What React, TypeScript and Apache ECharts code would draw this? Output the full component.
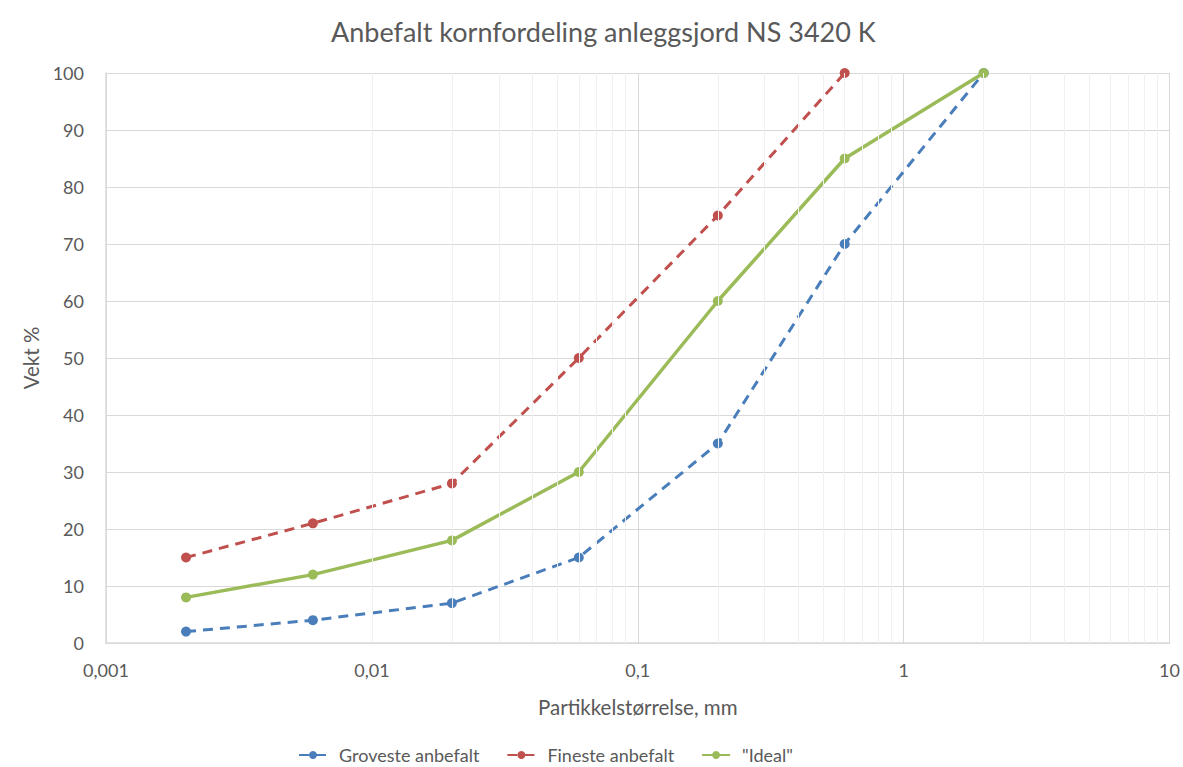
import React, { useEffect, useRef } from "react";
import * as echarts from "echarts";

// Particle size (mm) at each sieve point
const sizesGroveste = [0.002, 0.006, 0.02, 0.06, 0.2, 0.6, 2];
const valuesGroveste = [2, 4, 7, 15, 35, 70, 100];

const sizesFineste = [0.002, 0.006, 0.02, 0.06, 0.2, 0.6];
const valuesFineste = [15, 21, 28, 50, 75, 100];

const sizesIdeal = [0.002, 0.006, 0.02, 0.06, 0.2, 0.6, 2];
const valuesIdeal = [8, 12, 18, 30, 60, 85, 100];

const seriesNames = ["Groveste anbefalt", "Fineste anbefalt", '"Ideal"'];
const seriesColors = ["#4A7EBB", "#C0504D", "#9BBB59"];

const FONT = "Lato, 'Noto Sans', sans-serif";
const TEXT = "#595959";

// Minor log grid lines at 2..9 × each decade
const decades = [0.001, 0.01, 0.1, 1];
const minorGrid: number[] = [];
decades.forEach((d) => {
  for (let k = 2; k <= 9; k++) minorGrid.push(Number((k * d).toPrecision(6)));
});

const pairs = (xs: number[], ys: number[]) => xs.map((x, i) => [x, ys[i]]);

export default function App() {
  const ref = useRef<HTMLDivElement>(null);

  useEffect(() => {
    if (!ref.current) return;
    document.body.style.margin = "0";
    document.body.style.overflow = "hidden";
    const chart = echarts.init(ref.current, undefined, { renderer: "svg" });
    chart.setOption({
      animation: false,
      backgroundColor: "#ffffff",
      title: {
        text: "Anbefalt kornfordeling anleggsjord NS 3420 K",
        left: 326,
        top: 13,
        textStyle: { fontFamily: FONT, fontSize: 27, fontWeight: "normal", color: TEXT },
      },
      grid: { left: 106, right: 13, top: 73, bottom: 124, containLabel: false },
      legend: {
        bottom: 3,
        left: 298,
        padding: 0,
        itemGap: 27,
        itemWidth: 28,
        itemHeight: 10,
        textStyle: { fontFamily: FONT, fontSize: 18, color: TEXT, padding: [0, 0, 0, 7] },
        data: seriesNames,
      },
      xAxis: {
        type: "log",
        logBase: 10,
        min: 0.001,
        max: 10,
        name: "Partikkelstørrelse, mm",
        nameLocation: "middle",
        nameGap: 53,
        nameTextStyle: { fontFamily: FONT, fontSize: 20.5, color: TEXT },
        axisLine: { show: true, lineStyle: { color: "#d9d9d9", width: 1.5 } },
        axisTick: { show: false },
        axisLabel: {
          fontFamily: FONT,
          fontSize: 18,
          color: TEXT,
          margin: 18,
          formatter: (v: number) => String(Number(v.toPrecision(6))).replace(".", ","),
        },
        splitLine: { show: true, lineStyle: { color: "#d9d9d9", width: 1 } },
        minorTick: { show: false },
        minorSplitLine: { show: false },
      },
      yAxis: {
        type: "value",
        min: 0,
        max: 100,
        interval: 10,
        name: "Vekt %",
        nameLocation: "middle",
        nameGap: 61,
        nameRotate: 90,
        nameTextStyle: { fontFamily: FONT, fontSize: 20.5, color: TEXT },
        axisLine: { show: true, lineStyle: { color: "#d9d9d9", width: 1.5 } },
        axisTick: { show: false },
        axisLabel: { fontFamily: FONT, fontSize: 18, color: TEXT, margin: 22 },
        splitLine: { show: true, lineStyle: { color: "#d9d9d9", width: 1 } },
      },
      series: [
        {
          name: "minor-grid",
          type: "line",
          data: [],
          silent: true,
          z: 1,
          markLine: {
            silent: true,
            symbol: "none",
            label: { show: false },
            lineStyle: { color: "#f0f0f0", width: 1, type: "solid" },
            data: minorGrid.map((v) => ({ xAxis: v })),
          },
        },
        {
          name: seriesNames[0],
          type: "line",
          data: pairs(sizesGroveste, valuesGroveste),
          color: seriesColors[0],
          symbol: "circle",
          symbolSize: 10,
          lineStyle: { width: 3, type: [10, 7] },
          z: 3,
        },
        {
          name: seriesNames[1],
          type: "line",
          data: pairs(sizesFineste, valuesFineste),
          color: seriesColors[1],
          symbol: "circle",
          symbolSize: 10,
          lineStyle: { width: 3, type: [10, 7] },
          z: 3,
        },
        {
          name: seriesNames[2],
          type: "line",
          data: pairs(sizesIdeal, valuesIdeal),
          color: seriesColors[2],
          symbol: "circle",
          symbolSize: 10,
          lineStyle: { width: 3.5, type: "solid" },
          z: 4,
        },
      ],
    });
    return () => chart.dispose();
  }, []);

  return (
    <div
      ref={ref}
      style={{ position: "fixed", left: 0, top: 0, width: 1183, height: 767 }}
    />
  );
}
